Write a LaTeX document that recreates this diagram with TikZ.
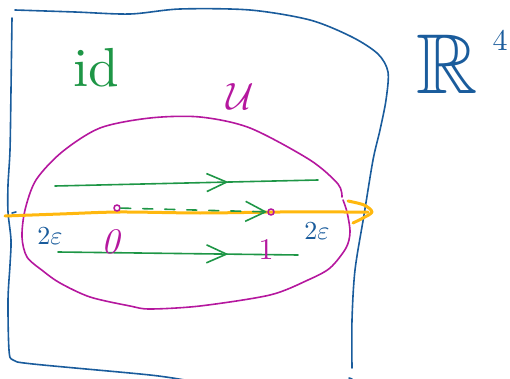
\documentclass[tikz,border=0pt]{standalone}
\usepackage{amssymb}
\usepackage{graphicx}
\usetikzlibrary{arrows.meta,decorations.markings}
\definecolor{inkblue}{HTML}{1A5C9C}
\definecolor{inkgreen}{HTML}{1E9646}
\definecolor{inkmag}{HTML}{B5179E}
\definecolor{inkorange}{HTML}{FFB80F}
\begin{document}
\begin{tikzpicture}[x=1pt,y=-1pt, line cap=round, line join=round,
  bluepen/.style={draw=inkblue, line width=1.6pt},
  greenpen/.style={draw=inkgreen, line width=1.6pt},
  magpen/.style={draw=inkmag, line width=1.6pt},
  orangepen/.style={draw=inkorange, line width=3pt},
  chevtip/.style={-{Straight Barb[length=20pt,width=20pt]}},
  midchev/.style={postaction={decorate}, decoration={markings,
      mark=at position #1 with {\arrow{Straight Barb[length=20pt,width=18pt]}}}},
  magdot/.style={circle, draw=inkmag, line width=1.6pt, minimum size=6pt, inner sep=0pt},
  lbl/.style={inner sep=0pt}
]
\useasboundingbox (0,0) rectangle (510,379);

% blue box (R^4)
\draw[bluepen] plot[smooth] coordinates {(15,10) (75,12) (130,14) (180,9) (250,10) (310,20) (352,37) (378,54) (388,72) (386,100) (380,130) (373,160) (364,215) (355,270) (352,320) (352,368)};
\draw[bluepen] plot[smooth] coordinates {(12,18) (11,90) (10,150) (8,185) (8,212) (11,240) (10,265) (8,300) (9,350) (13,360) (33,364) (150,375) (190,381)};
\draw[bluepen] (12,213) -- (16,212);
\draw[bluepen] (349,378) -- (352,379);

% magenta set U
\draw[magpen] plot[smooth] coordinates {(342,197) (338,184) (310,160) (250,128) (200,117) (150,118) (100,128) (62,152) (36,180) (25,210) (22,237) (27,257) (43,271) (60,283) (90,297) (130,306) (150,309) (200,306) (270,295) (308,280) (330,268) (346,248) (350,232) (347,212) (343,200)};

% green paths
\coordinate (a1) at (55,186);
\coordinate (a2) at (318,180);
\draw[greenpen, midchev=0.66] (a1) -- (a2);
\coordinate (b1) at (58,252);
\coordinate (b2) at (298,255);
\draw[greenpen, midchev=0.71] (b1) -- (b2);

% orange line
\draw[orangepen] plot[smooth] coordinates {(5,216) (60,214) (120,212) (200,213) (280,212) (345,212) (368,212)};
\draw[orangepen] plot[smooth] coordinates {(348,201) (364,205) (372,212) (363,218) (353,223)};

% points and dashed path
\node[magdot] (p0) at (117,208) {};
\node[magdot] (p1) at (271,212) {};
\draw[greenpen, dash pattern=on 10pt off 12pt, chevtip] (p0) -- (p1);

% labels
\node[lbl, text=inkgreen] (id) at (96,68) {\scalebox{5.5}{id}};
\node[lbl, text=inkmag] (U) at (240,97) {\scalebox{3.8}{$\mathcal{U}$}};
\node[lbl, text=inkblue] (R) at (447,64) {\scalebox{8.5}{$\mathbb{R}$}};
\node[lbl, text=inkblue] (four) at (500,40) {\scalebox{3}{4}};
\node[lbl, text=inkblue] (e1) at (50,236) {\scalebox{2.6}{$2\varepsilon$}};
\node[lbl, text=inkblue] (e2) at (317,231) {\scalebox{2.6}{$2\varepsilon$}};
\node[lbl, text=inkmag] (z) at (111,242) {\scalebox{3.6}{\textit{0}}};
\node[lbl, text=inkmag] (o) at (266,250) {\scalebox{3}{1}};
\end{tikzpicture}
\end{document}
